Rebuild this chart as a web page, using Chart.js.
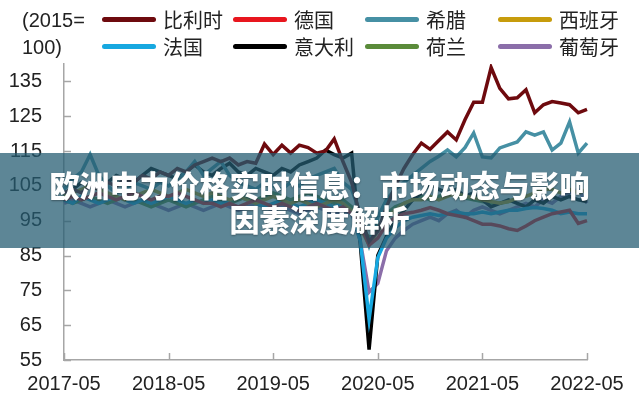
<!DOCTYPE html>
<html>
<head>
<meta charset="utf-8">
<script src="https://cdn.jsdelivr.net/npm/chart.js@4/dist/chart.umd.min.js"></script>
<style>
  html, body { margin: 0; padding: 0; background: #fff; }
  #wrap { position: relative; width: 639px; height: 400px; overflow: hidden; }
  #unit {
    position: absolute; left: 22px; top: 7px;
    font: 20px "Liberation Sans", Arial, sans-serif; line-height: 27px; color: #222;
  }
  .lg { position: absolute; height: 26px; display: flex; align-items: center; }
  .lg i { display: block; width: 54px; height: 5px; border-radius: 3px; margin-right: 7px; }
  .lg span { font: 20px "Noto Sans CJK SC", sans-serif; color: #222; }
  #banner {
    position: absolute; left: 0; top: 153px; width: 639px; height: 95px;
    background: rgba(36, 92, 113, 0.74);
    display: flex; align-items: center; justify-content: center; text-align: center;
    color: #fff; font: 900 30px "Noto Sans CJK SC", sans-serif; line-height: 34px;
    text-shadow: 0 1px 2px rgba(0,0,0,0.35);
  }
</style>
</head>
<body>
<div id="wrap">
  <canvas id="chart" width="639" height="400"></canvas>
  <div id="unit">(2015=<br>100)</div>
  <div id="legend"></div>
  <div id="banner">欧洲电力价格实时信息：市场动态与影响<br>因素深度解析</div>
</div>
<script>
// months 2017-05 .. 2022-05
const months = [
  '2017-05','2017-06','2017-07','2017-08','2017-09','2017-10','2017-11','2017-12',
  '2018-01','2018-02','2018-03','2018-04','2018-05','2018-06','2018-07','2018-08','2018-09','2018-10','2018-11','2018-12',
  '2019-01','2019-02','2019-03','2019-04','2019-05','2019-06','2019-07','2019-08','2019-09','2019-10','2019-11','2019-12',
  '2020-01','2020-02','2020-03','2020-04','2020-05','2020-06','2020-07','2020-08','2020-09','2020-10','2020-11','2020-12',
  '2021-01','2021-02','2021-03','2021-04','2021-05','2021-06','2021-07','2021-08','2021-09','2021-10','2021-11','2021-12',
  '2022-01','2022-02','2022-03','2022-04','2022-05'
];
const xTickLabels = ['2017-05', '2018-05', '2019-05', '2020-05', '2021-05', '2022-05'];
const yTicks = [55, 65, 75, 85, 95, 105, 115, 125, 135];

const seriesNames  = ['比利时', '德国', '希腊', '西班牙', '法国', '意大利', '荷兰', '葡萄牙'];
const seriesColors = ['#6E0A0E', '#E8161E', '#4690A4', '#C79C0C', '#17A8E0', '#000000', '#5A8B3A', '#8B6EA9'];

const belgium = [103,104,103,105,104,106,105,107,106,108,107,109,108,110,109,111,112,113,112,113,
  111,112,111.5,117,114,116.7,114.4,116.7,116,114.4,115,118.5,112,106,96,89,92,99,105,110,
  114,117.3,115.5,118,120.5,118.2,124,129,129,139,133,130,130.3,132.6,126,128.3,129.2,128.8,128.3,126,127];
const germany = [101,102,101,102,103,102,101,102,103,102,101,102,102,103,102,101,100,100,99,100,
  99,100,101,100,99,100,99,98,99,100,99,98,99,97,94,88,90,94,96,97,
  97.4,98,98.8,98,97,96.5,96,95,94,94,93.5,92.7,92.2,93.5,95,96,97,97.5,98,94.2,95];
const greece = [104,107,109,114,108,105,103,104,106,105,104,106,105,107,109,112,108,110,112,108,
  106,105,104,106,105,104,106,105,107,108,109,110,106,104,97,88,96,101,104,106,
  108,110,112,113.5,115.3,113.3,116,120.2,113.3,113,115.9,116.8,117.6,120.5,119.6,120.5,115.3,117.3,123.4,114.4,117.3];
const spain = [102,103,104,105,104,103,102,101,102,103,104,103,102,103,104,103,102,103,102,101,
  102,101,100,101,102,101,100,101,100,99,100,101,100,98,93,88,92,96,98,100,
  101,101,102,101,102,103,102,101.6,101,100.5,100,100.5,101.5,102,103,104,104,103,104,103,104];
const france = [101,100,102,101,100,101,102,101,100,101,100,101,102,101,100,101,100,101,100,101,
  102,101,100,99,100,101,100,99,100,101,100,99,100,98,89,66.7,84.4,90,93,95,
  96,96.5,97,96.5,97,97.5,97,97,97.5,97,97.5,98,98,98.5,98.8,98.5,98,97,97.5,97,97];
const italy = [103,104,106,105,104,106,108,107,106,108,110,109,108,107,109,111,109,108,110,111.5,
  109,108,110,109,108,110,109,111,112,113,115.3,114,113,114.4,88,58,85,90.5,95,98,
  101,103,105.7,104,103,104,102,103,101,99,100,101,100,99,101,100,102,101,102,101,100.5];
const netherlands = [101,100,101,102,101,100,101,102,101,100,99,100,101,100,99,100,101,102,101,100,
  101,102,101,102,103,102,101,102,103,102,101,100,101,99,94,90,93,97,99,100,
  101,102,101,102,103,102,101.5,101,100.5,100,100,100.5,101.5,null,null,null,null,null,null,null,null];
const portugal = [100,101,100,99,100,101,100,99,100,101,100,99,98,99,100,99,98,99,100,99,
  98,99,100,99,98,99,98,97,98,99,98,97,98,97,89,74.5,77,86.4,90,92.2,
  94,95,96,95,97,98,96,98,99,98,97,98,99,100,99,101,100,102,103,104,100];

const seriesData = [belgium, germany, greece, spain, france, italy, netherlands, portugal];

// legend, 4 columns x 2 rows
const legendCols = [102, 233, 365, 498];
const legendRows = [6, 33];
const legendOrder = [0, 1, 2, 3, 4, 5, 6, 7];
const legendEl = document.getElementById('legend');
legendOrder.forEach((k, n) => {
  const item = document.createElement('div');
  item.className = 'lg';
  item.style.left = legendCols[n % 4] + 'px';
  item.style.top  = legendRows[Math.floor(n / 4)] + 'px';
  item.innerHTML = '<i style="background:' + seriesColors[k] + '"></i><span>' + seriesNames[k] + '</span>';
  legendEl.appendChild(item);
});

// inward tick marks on both axes
const innerTicks = {
  id: 'innerTicks',
  beforeDatasetsDraw(chart) {
    const { ctx, chartArea, scales: { x, y } } = chart;
    ctx.save();
    ctx.strokeStyle = '#A6A6A6';
    ctx.lineWidth = 1.5;
    ctx.beginPath();
    yTicks.forEach(v => {
      const py = Math.round(y.getPixelForValue(v)) + 0.5;
      ctx.moveTo(chartArea.left, py);
      ctx.lineTo(chartArea.left + 7, py);
    });
    xTickLabels.forEach(l => {
      const px = Math.round(x.getPixelForValue(months.indexOf(l))) + 0.5;
      ctx.moveTo(px, chartArea.bottom);
      ctx.lineTo(px, chartArea.bottom - 7);
    });
    ctx.stroke();
    ctx.restore();
  }
};

new Chart(document.getElementById('chart'), {
  type: 'line',
  data: {
    labels: months,
    datasets: seriesData.map((d, k) => ({
      label: seriesNames[k],
      data: d,
      borderColor: seriesColors[k],
      backgroundColor: seriesColors[k],
      borderWidth: 3.5,
      pointRadius: 0,
      tension: 0,
      spanGaps: false,
    })),
  },
  options: {
    responsive: false,
    devicePixelRatio: 1,
    animation: false,
    layout: { padding: { top: 64, right: 52, left: 0, bottom: 0 } },
    plugins: {
      legend: { display: false },
      tooltip: { enabled: false },
    },
    scales: {
      x: {
        offset: false,
        grid: { display: false, drawTicks: false },
        border: { display: true, color: '#A6A6A6', width: 1.5 },
        afterFit: s => { s.height = 40; },
        ticks: {
          autoSkip: false,
          maxRotation: 0,
          padding: 12,
          color: '#222',
          font: { family: '"Liberation Sans", Arial, sans-serif', size: 20 },
          callback: (v, i) => xTickLabels.includes(months[i]) ? months[i] : null,
        },
      },
      y: {
        min: 55,
        max: 140,
        grid: { display: false, drawTicks: false },
        border: { display: true, color: '#A6A6A6', width: 1.5 },
        afterFit: s => { s.width = 64; },
        afterBuildTicks: s => { s.ticks = yTicks.map(v => ({ value: v })); },
        ticks: {
          padding: 22,
          color: '#222',
          font: { family: '"Liberation Sans", Arial, sans-serif', size: 20 },
        },
      },
    },
  },
  plugins: [innerTicks],
});
</script>
</body>
</html>
